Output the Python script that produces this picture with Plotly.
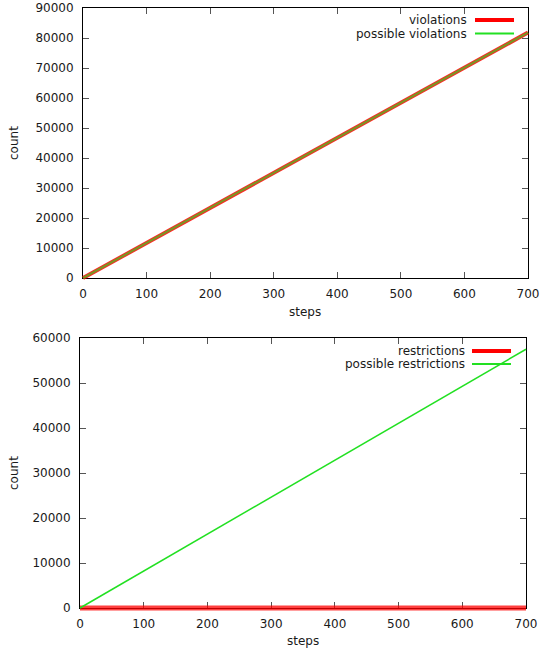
import plotly.graph_objects as go

W, H = 546, 651

# ---- data ----
steps = [0, 700]
violations = [0, 81800]
possible_violations = [0, 81800]
restrictions = [0, 0]
possible_restrictions = [0, 57500]

x_ticks = [0, 100, 200, 300, 400, 500, 600, 700]
y_ticks_top = [0, 10000, 20000, 30000, 40000, 50000, 60000, 70000, 80000, 90000]
y_ticks_bot = [0, 10000, 20000, 30000, 40000, 50000, 60000]

RED = "#ff0000"
GREEN = "#22e022"
FONT = "DejaVu Sans"
FS = 12
TXT = "#1a1a1a"

# pixel boxes of the two plot areas (left, right, top, bottom)
box_top = (83, 528, 8, 278)
box_bot = (80, 526, 338, 608)
xr = (0, 700)
yr_top = (0, 90000)
yr_bot = (0, 60000)
PAD = 7  # px overlay padding so thick lines are not clipped


def xd(l, r):
    return [l / W, r / W]


def yd(t, b):
    return [1 - b / H, 1 - t / H]


fig = go.Figure()
layout = dict(
    width=W, height=H, margin=dict(l=0, r=0, t=0, b=0, autoexpand=False),
    paper_bgcolor="white", plot_bgcolor="rgba(0,0,0,0)",
    font=dict(family=FONT, size=FS, color=TXT),
    showlegend=False,
)


def frame_axes(i, box, yr, yt):
    l, r, t, b = box
    ax = dict(showline=True, linecolor="black", linewidth=1, mirror="allticks",
              ticks="inside", ticklen=6, tickcolor="#555", showgrid=False,
              zeroline=False, automargin=False, tickformat="d",
              tickfont=dict(family=FONT, size=FS, color=TXT))
    layout[f"xaxis{i}"] = dict(domain=xd(l, r), range=list(xr), tickvals=x_ticks,
                               anchor=f"y{i}", ticklabelstandoff=5, **ax)
    layout[f"yaxis{i}"] = dict(domain=yd(t, b), range=list(yr), tickvals=yt,
                               anchor=f"x{i}", ticklabelstandoff=6, **ax)


def overlay_axes(i, box, yr):
    l, r, t, b = box
    ux = (xr[1] - xr[0]) / (r - l)
    uy = (yr[1] - yr[0]) / (b - t)
    hid = dict(visible=False, showgrid=False, zeroline=False, automargin=False)
    layout[f"xaxis{i}"] = dict(domain=xd(l - PAD, r + PAD),
                               range=[xr[0] - PAD * ux, xr[1] + PAD * ux],
                               anchor=f"y{i}", **hid)
    layout[f"yaxis{i}"] = dict(domain=yd(t - PAD, b + PAD),
                               range=[yr[0] - PAD * uy, yr[1] + PAD * uy],
                               anchor=f"x{i}", **hid)


frame_axes("", box_top, yr_top, y_ticks_top)
frame_axes(2, box_bot, yr_bot, y_ticks_bot)
overlay_axes(3, box_top, yr_top)
overlay_axes(4, box_bot, yr_bot)

# invisible traces so the framed axes get drawn
fig.add_trace(go.Scatter(x=[None], y=[None], xaxis="x", yaxis="y", hoverinfo="skip"))
fig.add_trace(go.Scatter(x=[None], y=[None], xaxis="x2", yaxis="y2", hoverinfo="skip"))

# data traces
fig.add_trace(go.Scatter(x=steps, y=violations, mode="lines", xaxis="x3", yaxis="y3",
                         line=dict(color=RED, width=4), opacity=0.85, name="violations"))
fig.add_trace(go.Scatter(x=steps, y=possible_violations, mode="lines", xaxis="x3", yaxis="y3",
                         line=dict(color=GREEN, width=2.2), opacity=0.6, name="possible violations"))
fig.add_trace(go.Scatter(x=steps, y=restrictions, mode="lines", xaxis="x4", yaxis="y4",
                         line=dict(color=RED, width=5), opacity=0.75, name="restrictions"))
fig.add_trace(go.Scatter(x=steps, y=possible_restrictions, mode="lines", xaxis="x4", yaxis="y4",
                         line=dict(color=GREEN, width=1.5), name="possible restrictions"))

annotations = []
shapes = []


def atext(x, y, text, xanchor="center", angle=0):
    annotations.append(dict(x=x / W, y=1 - y / H, xref="paper", yref="paper", text=text,
                            showarrow=False, xanchor=xanchor, yanchor="middle",
                            textangle=angle, font=dict(family=FONT, size=FS, color=TXT)))


# axis titles
atext(305, 312, "steps")
atext(14, 143, "count", angle=-90)
atext(303, 641, "steps")
atext(14, 473, "count", angle=-90)


# legends (gnuplot style: text right, sample to the right)
def legend_entry(y, text, x_text, x0, x1, color, width):
    atext(x_text, y, text, xanchor="right")
    shapes.append(dict(type="line", xref="paper", yref="paper",
                       x0=x0 / W, x1=x1 / W, y0=1 - y / H, y1=1 - y / H,
                       line=dict(color=color, width=width)))


legend_entry(20, "violations", 469, 475, 514, RED, 4)
legend_entry(33.5, "possible violations", 469, 475, 514, GREEN, 2)
legend_entry(351, "restrictions", 467, 472, 511, RED, 4)
legend_entry(364, "possible restrictions", 467, 472, 511, GREEN, 2)

layout["annotations"] = annotations
layout["shapes"] = shapes
fig.update_layout(**layout)
fig.write_html("out.html")
